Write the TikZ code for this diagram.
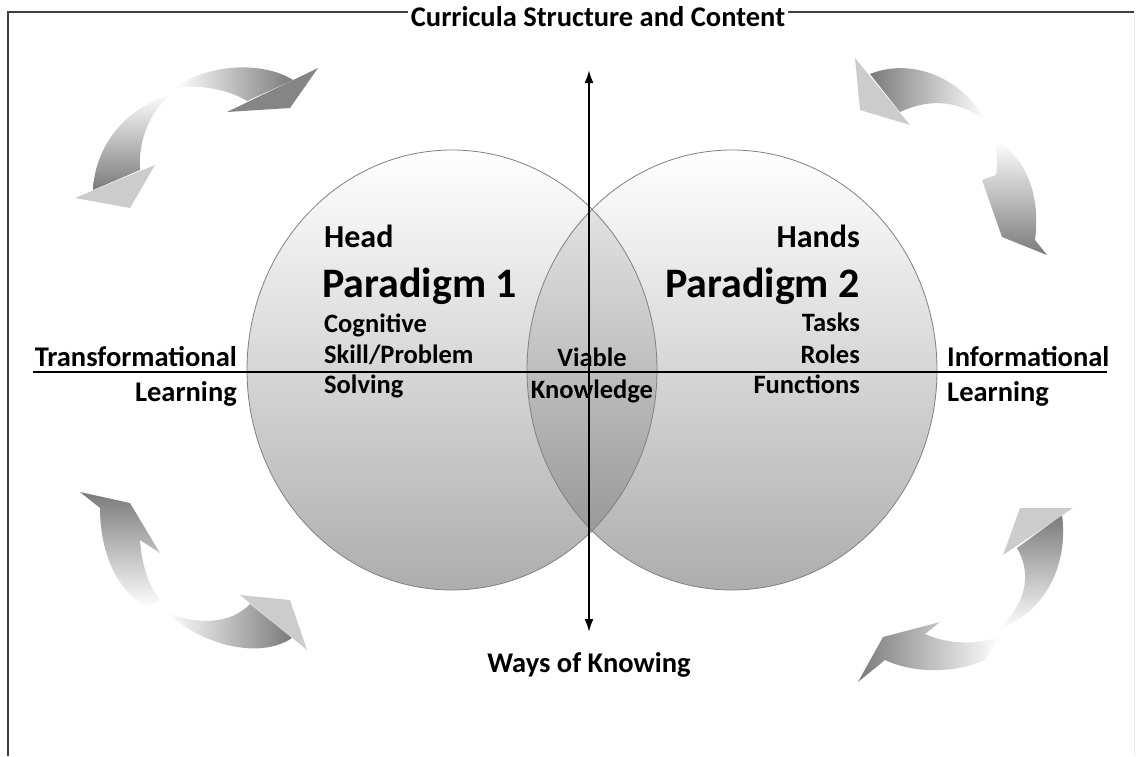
\documentclass[tikz,border=0pt]{standalone}
\usepackage{fontspec}
\setmainfont{Carlito}
\usetikzlibrary{arrows.meta}
\begin{document}
\begin{tikzpicture}[x=1pt,y=-1pt,
  lbl/.style={font=\bfseries\fontsize{28.5}{32}\selectfont, inner sep=0pt},
  subt/.style={font=\bfseries\fontsize{26.5}{30}\selectfont, inner sep=0pt},
  bigt/.style={font=\bfseries\fontsize{42}{46}\selectfont, inner sep=0pt},
  hdt/.style={font=\bfseries\fontsize{32}{36}\selectfont, inner sep=0pt},
  body/.style={top color=white, bottom color=black!52},
  lighthead/.style={fill=black!20},
  darkhead/.style={fill=black!48},
  axis/.style={line width=2pt, black},
  ring/.style={draw=black!50, line width=0.8pt}
]
\useasboundingbox (0,0) rectangle (1139,756);
% frame
\draw[line width=2pt, black!75] (8,756) -- (8,12) -- (1134,12);
\draw[line width=0.6pt, black!8] (1134,12) -- (1134,756);

% circles
\shade[top color=white, bottom color=black!32] (452,370) ellipse [x radius=205, y radius=220];
\shade[top color=white, bottom color=black!32] (732,370) ellipse [x radius=205, y radius=220];
\begin{scope}
  \clip (452,370) ellipse [x radius=205, y radius=220];
  \shade[top color=black!6, bottom color=black!45] (732,370) ellipse [x radius=205, y radius=220];
\end{scope}
\draw[ring] (452,370) ellipse [x radius=205, y radius=220];
\draw[ring] (732,370) ellipse [x radius=205, y radius=220];

% axes
\coordinate (hl) at (33,372);
\coordinate (hr) at (1107,372);
\coordinate (vt) at (589,70);
\coordinate (vb) at (589,632);
\draw[axis] (hl) -- (hr);
\draw[axis, {Latex[length=13pt,width=9pt]}-{Latex[length=13pt,width=9pt]}] (vt) -- (vb);

% curved arrows, top left
\shade[body, shading angle=90] (175,88) .. controls (210,62) and (265,62) .. (293,80) -- (247,101) .. controls (230,90) and (200,84) .. (175,88) -- cycle;
\fill[darkhead] (318,68) -- (290,108) -- (227,112) -- cycle;
\shade[body, shading angle=0] (173,93) .. controls (120,110) and (95,150) .. (93,190) -- (140,170) .. controls (138,140) and (150,110) .. (173,93) -- cycle;
\fill[lighthead] (155,165) -- (75,198) -- (130,208) -- cycle;

% top right
\shade[body, shading angle=270] (870,74) .. controls (910,58) and (960,75) .. (987,122) .. controls (960,100) and (930,98) .. (900,112) -- cycle;
\fill[lighthead] (855,58) -- (860,110) -- (910,125) -- cycle;
\shade[body, shading angle=0] (995,140) .. controls (1030,160) and (1040,200) .. (1035,240) -- (1047,255) -- (1002,237) -- (982,180) -- (996,175) .. controls (998,160) and (997,150) .. (995,140) -- cycle;

% bottom left
\shade[body, shading angle=180] (80,492) -- (130,503) -- (160,553) -- (140,540) .. controls (142,565) and (148,585) .. (160,600) -- (148,608) .. controls (115,590) and (100,550) .. (100,508) -- cycle;
\shade[body, shading angle=90] (167,612) .. controls (200,645) and (260,660) .. (292,638) -- (250,604) .. controls (230,625) and (195,625) .. (167,612) -- cycle;
\fill[lighthead] (240,595) -- (290,600) -- (307,650) -- cycle;

% bottom right
\shade[body, shading angle=180] (1062,515) .. controls (1068,560) and (1050,610) .. (998,630) .. controls (1030,600) and (1030,570) .. (1017,548) -- cycle;
\fill[lighthead] (1020,508) -- (1073,508) -- (1003,555) -- cycle;
\shade[body, shading angle=270] (858,682) -- (883,637) -- (940,622) -- (925,634) .. controls (950,645) and (980,645) .. (1000,636) -- (985,660) .. controls (950,675) and (910,672) .. (885,660) -- cycle;

% texts
\node[lbl, anchor=base, fill=white, inner sep=3pt] (ctop) at (598,26) {Curricula Structure and Content};
\node[lbl, anchor=base] (ways) at (589,672) {Ways of Knowing};
\node[lbl, anchor=base east] (tr) at (237,366) {Transformational};
\node[lbl, anchor=base east] (trl) at (237,401) {Learning};
\node[lbl, anchor=base west] (inf) at (947,366) {Informational};
\node[lbl, anchor=base west] (infl) at (947,401) {Learning};

\node[hdt, anchor=base west] (head) at (324,247) {Head};
\node[bigt, anchor=base west] (p1) at (322,297) {Paradigm 1};
\node[subt, anchor=base west] (c1) at (324,332) {Cognitive};
\node[subt, anchor=base west] (c2) at (324,363) {Skill/Problem};
\node[subt, anchor=base west] (c3) at (324,393) {Solving};

\node[hdt, anchor=base east] (hands) at (860,247) {Hands};
\node[bigt, anchor=base east] (p2) at (860,297) {Paradigm 2};
\node[subt, anchor=base east] (d1) at (860,331) {Tasks};
\node[subt, anchor=base east] (d2) at (860,363) {Roles};
\node[subt, anchor=base east] (d3) at (860,393) {Functions};

\node[subt, anchor=base] (v1) at (592,366) {Viable};
\node[subt, anchor=base] (v2) at (592,398) {Knowledge};
\end{tikzpicture}
\end{document}
